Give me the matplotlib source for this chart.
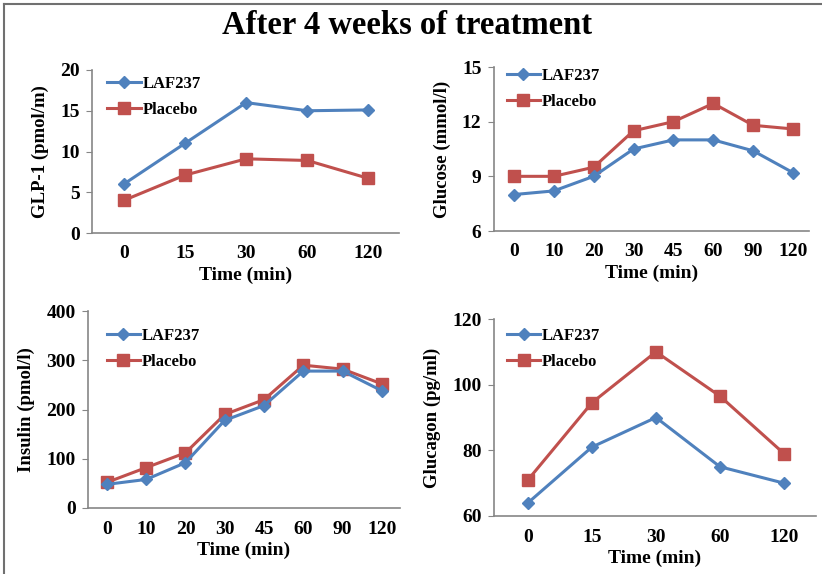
import matplotlib
matplotlib.use("Agg")
import matplotlib.pyplot as plt
from matplotlib.lines import Line2D

plt.rcParams['font.family'] = ['Liberation Serif', 'DejaVu Serif']
plt.rcParams['font.weight'] = 'bold'

# data
glp_times = ['0', '15', '30', '60', '120']
glp_laf = [6.0, 11.0, 16.0, 15.0, 15.1]
glp_placebo = [4.0, 7.1, 9.1, 8.9, 6.7]

glu_times = ['0', '10', '20', '30', '45', '60', '90', '120']
glu_laf = [8.0, 8.2, 9.0, 10.5, 11.0, 11.0, 10.4, 9.2]
glu_placebo = [9.0, 9.0, 9.5, 11.5, 12.0, 13.0, 11.8, 11.6]

ins_times = ['0', '10', '20', '30', '45', '60', '90', '120']
ins_laf = [48, 58, 92, 178, 208, 278, 278, 238]
ins_placebo = [52, 82, 112, 190, 220, 290, 282, 252]

gcg_times = ['0', '15', '30', '60', '120']
gcg_laf = [64, 81, 90, 75, 70]
gcg_placebo = [71, 94.5, 110, 96.5, 79]

BLUE = '#4F81BD'
RED = '#C0504D'
AXIS_GRAY = '#868686'

W, H = 822, 574
fig = plt.figure(figsize=(W / 100, H / 100), dpi=100)


def px_axes(left, right, top, bottom):
    return fig.add_axes([left / W, (H - bottom) / H, (right - left) / W, (bottom - top) / H])


def panel(ax, times, laf, placebo, ylabel, ylim, yticks, xlim, leg_xy):
    x = list(range(len(times)))
    ax.plot(x, laf, color=BLUE, lw=2.2, marker='D', ms=6, label='LAF237', zorder=3)
    ax.plot(x, placebo, color=RED, lw=2.2, marker='s', ms=9, label='Placebo', zorder=2)
    ax.set_xlim(*xlim)
    ax.set_ylim(*ylim)
    ax.set_yticks(yticks)
    ax.set_xticks(x)
    ax.set_xticklabels(times)
    for s in ['top', 'right']:
        ax.spines[s].set_visible(False)
    for s in ['left', 'bottom']:
        ax.spines[s].set_color(AXIS_GRAY)
        ax.spines[s].set_linewidth(1.2)
    ax.tick_params(axis='y', direction='out', length=4, color=AXIS_GRAY, pad=5,
                   labelsize=14)
    ax.tick_params(axis='x', length=0, pad=9, labelsize=14)
    ax.set_xlabel('Time (min)', fontsize=14, fontweight='bold', labelpad=3)
    ax.set_ylabel(ylabel, fontsize=13.5, fontweight='bold', labelpad=8)
    handles = [Line2D([], [], color=BLUE, lw=2.2, marker='D', ms=6),
               Line2D([], [], color=RED, lw=2.2, marker='s', ms=9)]
    ax.legend(handles, ['LAF237', 'Placebo'], loc='upper left', bbox_to_anchor=leg_xy,
              frameon=False, fontsize=12, handlelength=2.0, handletextpad=0.1,
              labelspacing=0.6, borderaxespad=0, borderpad=0)


ax1 = px_axes(92, 399, 70, 233)
panel(ax1, glp_times, glp_laf, glp_placebo, 'GLP-1 (pmol/m)', (0, 20), [0, 5, 10, 15, 20],
      (-0.52, 4.5), (0.05, 0.965))

ax2 = px_axes(494, 809, 67, 231)
panel(ax2, glu_times, glu_laf, glu_placebo, 'Glucose (mmol/l)', (6, 15), [6, 9, 12, 15],
      (-0.5, 7.4), (0.04, 0.995))

ax3 = px_axes(88, 400, 311, 508)
panel(ax3, ins_times, ins_laf, ins_placebo, 'Insulin (pmol/l)', (0, 400), [0, 100, 200, 300, 400],
      (-0.48, 7.46), (0.06, 0.915))

ax4 = px_axes(494, 816, 319, 516)
panel(ax4, gcg_times, gcg_laf, gcg_placebo, 'Glucagon (pg/ml)', (60, 120), [60, 80, 100, 120],
      (-0.53, 4.5), (0.04, 0.955))

fig.text(407 / W, 1 - 26 / H, 'After 4 weeks of treatment', ha='center', va='center',
         fontsize=23.5, fontweight='bold')

# thin gray frame at top and left edge
fig.add_artist(Line2D([4 / W, 1], [1 - 4 / H, 1 - 4 / H], transform=fig.transFigure,
                      color='#707070', lw=1.5))
fig.add_artist(Line2D([4 / W, 4 / W], [0, 1 - 4 / H], transform=fig.transFigure,
                      color='#707070', lw=1.5))

fig.savefig('out.png', dpi=100)
